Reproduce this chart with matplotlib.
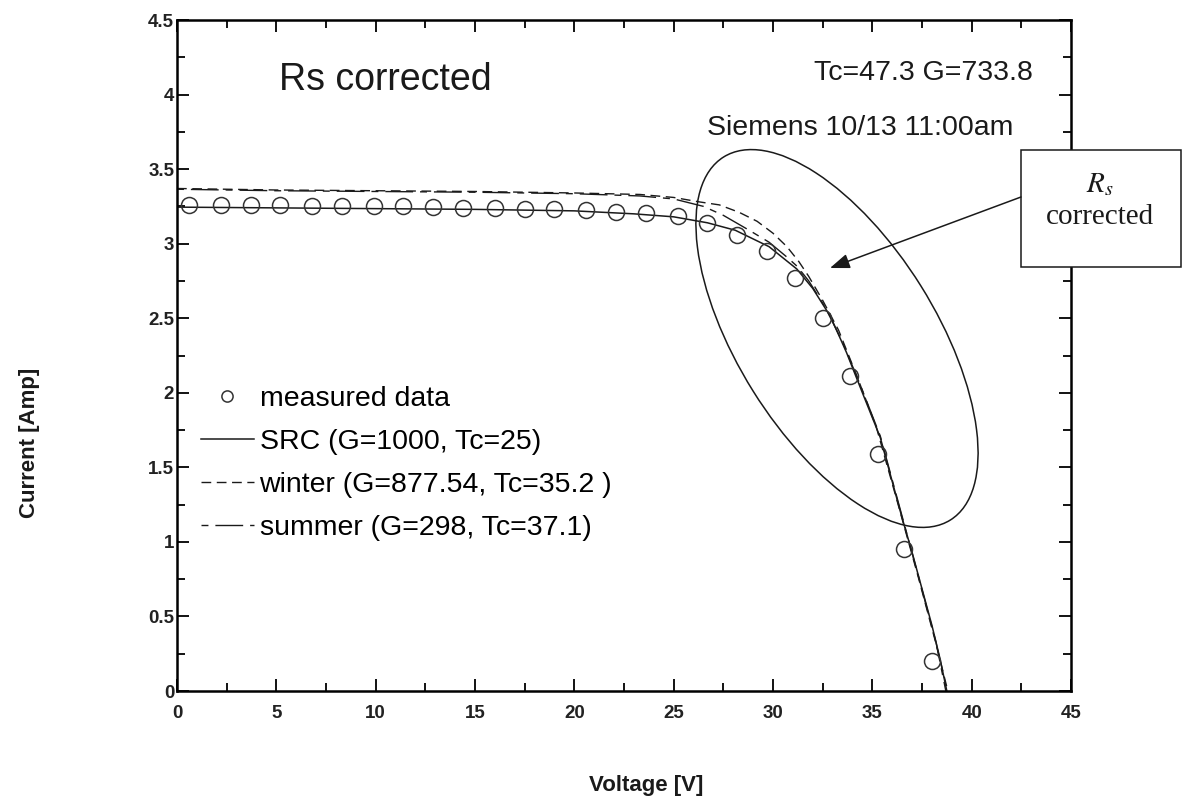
import matplotlib
matplotlib.use("Agg")
import matplotlib.pyplot as plt
from matplotlib.patches import Ellipse, Rectangle
from matplotlib.ticker import MultipleLocator, FuncFormatter

# measured I-V points (Siemens module, 10/13 11:00am)
meas_v = [0.6, 2.2, 3.7, 5.2, 6.8, 8.3, 9.9, 11.4, 12.9, 14.4, 16.0, 17.5, 19.0,
          20.6, 22.1, 23.6, 25.2, 26.7, 28.2, 29.7, 31.1, 32.5, 33.9, 35.3, 36.6, 38.0]
meas_i = [3.26, 3.26, 3.26, 3.26, 3.255, 3.25, 3.25, 3.25, 3.245, 3.24, 3.24, 3.235, 3.23,
          3.225, 3.215, 3.205, 3.185, 3.14, 3.06, 2.95, 2.77, 2.50, 2.11, 1.59, 0.95, 0.20]

# SRC translated curve (G=1000, Tc=25)
src_v = [0, 5, 10, 15, 20, 23, 25, 26.7, 28.1, 29.8, 31.2, 32.0, 32.9, 33.7, 34.5,
         35.4, 36.5, 37.0, 38.0, 38.4, 38.75]
src_i = [3.245, 3.24, 3.235, 3.23, 3.22, 3.20, 3.18, 3.14, 3.09, 2.98, 2.83, 2.70, 2.51,
         2.27, 2.00, 1.70, 1.16, 0.93, 0.44, 0.22, 0.0]

# winter translated curve (G=877.54, Tc=35.2)
win_v = [0, 5, 10, 15, 20, 23.3, 25, 26.3, 27.3, 28.3, 29.2, 30.0, 30.7, 31.3, 31.8,
         32.5, 33.3, 34.2, 35.2, 36.3, 37.3, 38.2, 38.8]
win_i = [3.37, 3.36, 3.355, 3.35, 3.34, 3.33, 3.31, 3.28, 3.26, 3.21, 3.15, 3.07, 2.98,
         2.88, 2.78, 2.62, 2.42, 2.12, 1.77, 1.25, 0.77, 0.32, 0.0]

# summer translated curve (G=298, Tc=37.1)
sum_v = [0, 5, 10, 15, 20, 23.3, 25, 26.5, 27.5, 28.8, 29.8, 30.7, 31.2, 31.8, 32.6,
         33.5, 34.4, 35.4, 36.4, 37.3, 38.2, 38.7]
sum_i = [3.365, 3.355, 3.35, 3.345, 3.335, 3.32, 3.30, 3.25, 3.19, 3.09, 3.01, 2.91, 2.85,
         2.75, 2.58, 2.34, 2.05, 1.71, 1.22, 0.78, 0.33, 0.0]

labels = ["measured data", "SRC (G=1000, Tc=25)",
          "winter (G=877.54, Tc=35.2 )", "summer (G=298, Tc=37.1)"]

plt.rcParams["font.family"] = ["Liberation Sans", "DejaVu Sans"]
plt.rcParams["mathtext.fontset"] = "stix"

W, H = 1184, 805
fig = plt.figure(figsize=(W / 100, H / 100), dpi=100)
ax = fig.add_axes([177 / W, 1 - 691 / H, (1071 - 177) / W, (691 - 20) / H])

ink = "#1a1a1a"
ax.plot(meas_v, meas_i, linestyle="none", marker="o", markersize=11.5,
        markerfacecolor="none", markeredgecolor="#333333", markeredgewidth=1.1,
        label=labels[0], zorder=3)
ax.plot(src_v, src_i, color=ink, lw=1.1, label=labels[1])
ax.plot(win_v, win_i, color=ink, lw=1.0, dashes=(7, 4), label=labels[2])
ax.plot(sum_v, sum_i, color=ink, lw=1.0, dashes=(5, 5, 20, 5), label=labels[3])

ax.set_xlim(0, 45)
ax.set_ylim(0, 4.5)
ax.xaxis.set_major_locator(MultipleLocator(5))
ax.xaxis.set_minor_locator(MultipleLocator(2.5))
ax.yaxis.set_major_locator(MultipleLocator(0.5))
ax.yaxis.set_minor_locator(MultipleLocator(0.25))
ax.yaxis.set_major_formatter(FuncFormatter(lambda v, p: f"{v:g}"))
ax.xaxis.set_major_formatter(FuncFormatter(lambda v, p: f"{v:g}"))
ax.tick_params(which="both", direction="in", top=True, right=True, color="black", width=1.3)
ax.tick_params(which="major", length=8.5)
ax.tick_params(which="minor", length=5.5)
ax.tick_params(axis="x", pad=10, labelsize=13.5)
ax.tick_params(axis="y", pad=2, labelsize=13.5)
for lab in ax.get_xticklabels() + ax.get_yticklabels():
    lab.set_fontweight("bold")
    lab.set_color("#222222")
for s in ax.spines.values():
    s.set_linewidth(1.8)

leg = ax.legend(loc="upper left", bbox_to_anchor=(0.027, 0.455), frameon=False,
                fontsize=20.5, handlelength=1.85, handletextpad=0.2, labelspacing=0.6,
                markerscale=0.7, borderpad=0, borderaxespad=0)

# figure-level annotations in pixel coordinates
ov = fig.add_axes([0, 0, 1, 1])
ov.set_xlim(0, W)
ov.set_ylim(H, 0)
ov.set_axis_off()

ov.text(385, 80, "Rs corrected", fontsize=27, ha="center", va="center", color=ink)
ov.text(1033, 73, "Tc=47.3 G=733.8", fontsize=20.5, ha="right", va="center", color=ink)
ov.text(707, 128, "Siemens 10/13 11:00am", fontsize=20.5, ha="left", va="center", color=ink)

ov.add_patch(Ellipse((837, 338.5), 428, 198, angle=58, fill=False, ec=ink, lw=1.1))
ov.add_patch(Rectangle((1021, 150), 160, 117, fill=True, fc="white", ec=ink, lw=1.1))
ov.text(1100, 184, "$R_s$", fontsize=21, ha="center", va="center", color=ink)
ov.text(1100, 217, "corrected", fontsize=21, ha="center", va="center", color=ink,
        family=["Liberation Serif", "DejaVu Serif"])
ov.annotate("", xy=(830, 268), xytext=(1021, 197),
            arrowprops=dict(arrowstyle="-|>,head_length=1.2,head_width=0.45", color=ink, lw=1.1,
                            shrinkA=0, shrinkB=0))

fig.text(30 / W, 1 - 443 / H, "Current [Amp]", rotation=90, fontsize=16, fontweight="bold",
         ha="center", va="center", color=ink)
fig.text(646 / W, 1 - 785 / H, "Voltage [V]", fontsize=16, fontweight="bold",
         ha="center", va="center", color=ink)

fig.savefig("out.png", dpi=100, facecolor="white")
